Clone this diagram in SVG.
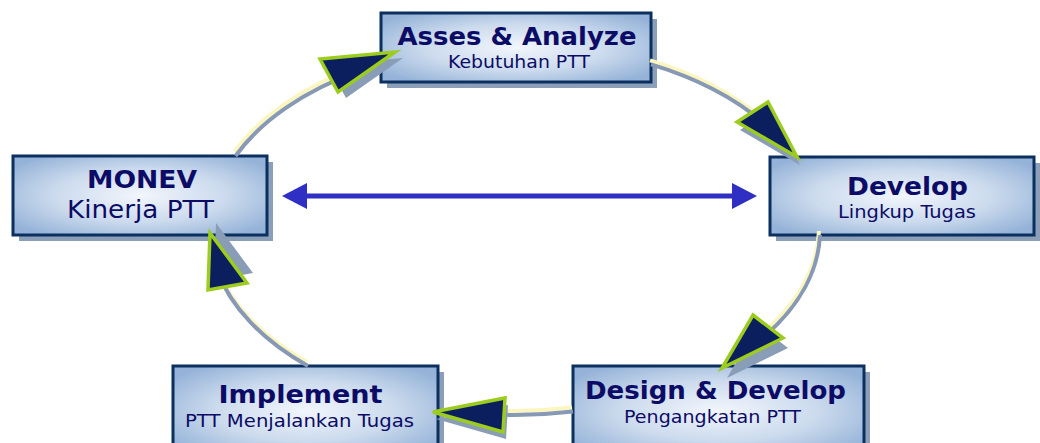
<svg xmlns="http://www.w3.org/2000/svg" width="1040" height="443" viewBox="0 0 1040 443">
  <defs>
    <radialGradient id="boxFill" cx="0.5" cy="0.5" r="0.62">
      <stop offset="0" stop-color="#f2f6fc"/>
      <stop offset="0.55" stop-color="#cbdaed"/>
      <stop offset="1" stop-color="#95b3d8"/>
    </radialGradient>
    <style>
      .shadow { fill: #8c9fb8; }
      .box { fill: url(#boxFill); stroke: #0b2f5f; stroke-width: 3; }
      .title { font-family: "DejaVu Sans", Verdana, sans-serif; font-weight: bold; fill: #0c0c66; text-anchor: middle; }
      .sub { font-family: "DejaVu Sans", Verdana, sans-serif; fill: #0c0c66; text-anchor: middle; }
      .track { fill: none; stroke: #8799b5; stroke-width: 4; }
      .glow { fill: none; stroke: #fbf6c0; stroke-width: 4; }
      .head { fill: #0b1f5e; stroke: #9ccc1e; stroke-width: 3.5; stroke-linejoin: miter; }
      .head-shadow { fill: #8a9db6; }
      .link { stroke: #2f2fc4; stroke-width: 5; }
      .link-head { fill: #2f2fc4; }
    </style>
  </defs>

  <rect width="1040" height="443" fill="#ffffff"/>

  <!-- nodes -->
  <g id="asses-analyze">
    <rect class="shadow" x="387" y="19" width="270" height="69"/>
    <rect class="box" x="381" y="13" width="270" height="69"/>
    <text class="title" x="517" y="45" font-size="25" textLength="239" lengthAdjust="spacingAndGlyphs">Asses &amp; Analyze</text>
    <text class="sub" x="519" y="68" font-size="18" textLength="142" lengthAdjust="spacingAndGlyphs">Kebutuhan PTT</text>
  </g>

  <g id="monev">
    <rect class="shadow" x="19" y="162" width="254" height="79"/>
    <rect class="box" x="13" y="156" width="254" height="79"/>
    <text class="title" x="142" y="188" font-size="24" textLength="110" lengthAdjust="spacingAndGlyphs">MONEV</text>
    <text class="sub" x="140.5" y="218" font-size="25" textLength="147" lengthAdjust="spacingAndGlyphs">Kinerja PTT</text>
  </g>

  <g id="develop">
    <rect class="shadow" x="776" y="163" width="264" height="78"/>
    <rect class="box" x="770" y="157" width="264" height="78"/>
    <text class="title" x="907.5" y="195" font-size="24" textLength="121" lengthAdjust="spacingAndGlyphs">Develop</text>
    <text class="sub" x="907" y="218" font-size="18" textLength="138" lengthAdjust="spacingAndGlyphs">Lingkup Tugas</text>
  </g>

  <g id="implement">
    <rect class="shadow" x="179" y="372" width="265" height="90"/>
    <rect class="box" x="173" y="366" width="265" height="90"/>
    <text class="title" x="300.5" y="403" font-size="24" textLength="164" lengthAdjust="spacingAndGlyphs">Implement</text>
    <text class="sub" x="299.5" y="427" font-size="17" textLength="229" lengthAdjust="spacingAndGlyphs">PTT Menjalankan Tugas</text>
  </g>

  <g id="design-develop">
    <rect class="shadow" x="579" y="372" width="291" height="90"/>
    <rect class="box" x="573" y="366" width="291" height="90"/>
    <text class="title" x="715.5" y="399" font-size="24" textLength="261" lengthAdjust="spacingAndGlyphs">Design &amp; Develop</text>
    <text class="sub" x="712.5" y="423" font-size="17" textLength="177" lengthAdjust="spacingAndGlyphs">Pengangkatan PTT</text>
  </g>

  <!-- connectors: elliptical cycle track, arrowheads, two-way link -->
  <g id="connectors">
    <g transform="translate(-1,-4)">
      <path class="glow" d="M235.5,156 A305,185 0 0 1 360,70.7"/>
      <path class="glow" d="M651,64.4 A305,185 0 0 1 765,124"/>
      <path class="glow" d="M820,235 A305,185 0 0 1 766,335"/>
      <path class="glow" d="M573,411.6 A305,185 0 0 1 480,413.8"/>
      <path class="glow" d="M308,366 A305,185 0 0 1 217,270"/>
    </g>
    <path class="track" d="M235.5,156 A305,185 0 0 1 360,70.7"/>
    <path class="track" d="M651,64.4 A305,185 0 0 1 765,124"/>
    <path class="track" d="M820,235 A305,185 0 0 1 766,335"/>
    <path class="track" d="M573,411.6 A305,185 0 0 1 480,413.8"/>
    <path class="track" d="M308,366 A305,185 0 0 1 217,270"/>

    <!-- arrowhead shadows -->
    <polygon class="head-shadow" points="328,65 403,58 346,98"/>
    <polygon class="head-shadow" points="740,130 771,110 800,165"/>
    <polygon class="head-shadow" points="758,325 788,348 727,378"/>
    <polygon class="head-shadow" points="436,419 508,405 506,439"/>
    <polygon class="head-shadow" points="216,223 253,273 214,280"/>

    <!-- arrowheads -->
    <polygon class="head" points="320,59 395,52 338,92"/>
    <polygon class="head" points="737,122 768,102 797,157"/>
    <polygon class="head" points="753,315 783,338 722,368"/>
    <polygon class="head" points="433,412 505,398 503,432"/>
    <polygon class="head" points="210,233 247,283 208,290"/>

    <!-- two-way link between MONEV and Develop -->
    <line class="link" x1="300" y1="196" x2="740" y2="196"/>
    <polygon class="link-head" points="282,196 307,183 307,209"/>
    <polygon class="link-head" points="757,196 732,183 732,209"/>
  </g>
</svg>
